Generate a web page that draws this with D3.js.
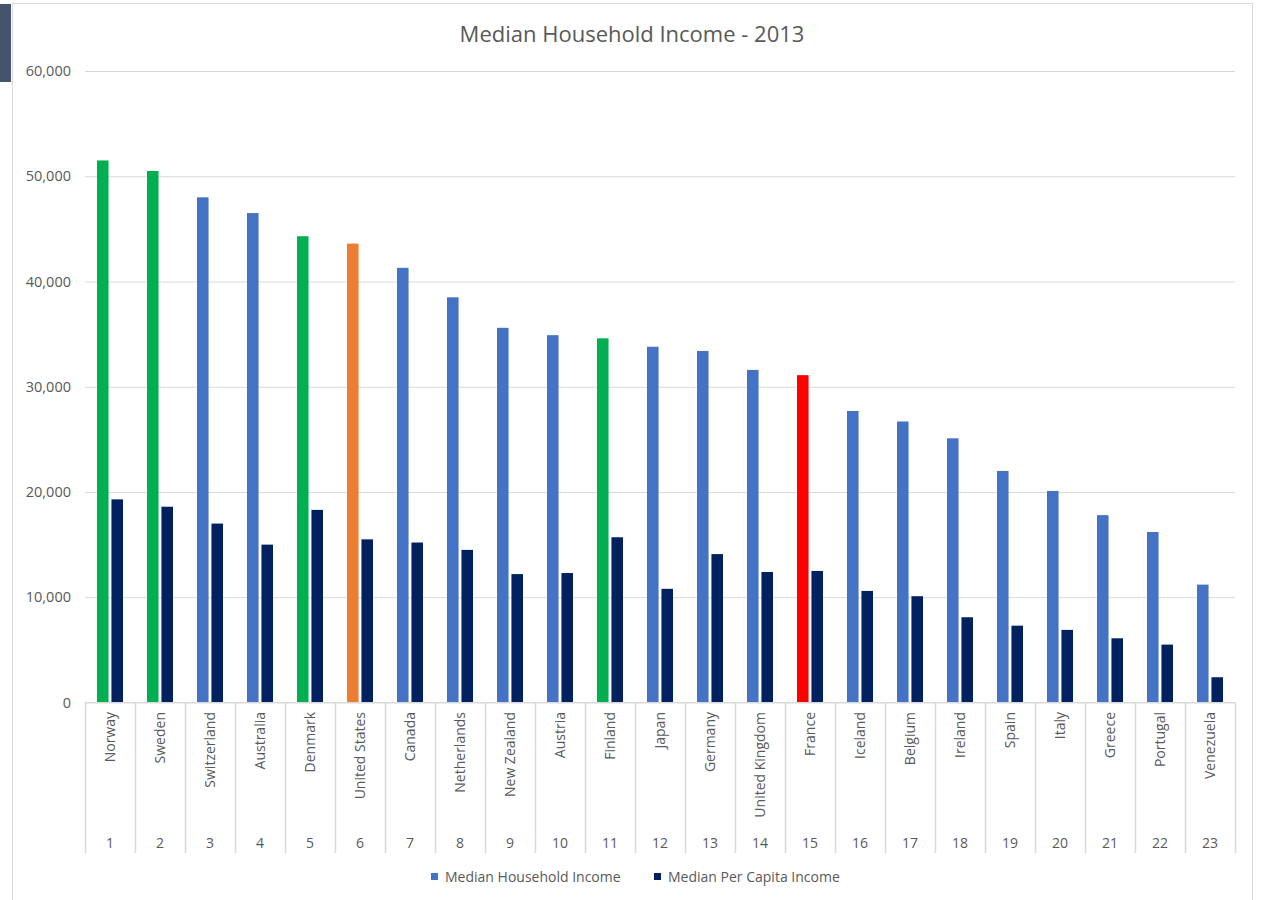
<!DOCTYPE html>
<html>
<head>
<meta charset="utf-8">
<script src="https://cdn.jsdelivr.net/npm/d3@7/dist/d3.min.js"></script>
<style>
  html, body { margin: 0; padding: 0; background: #ffffff; }
  svg { display: block; font-family: "Open Sans", "Noto Sans", sans-serif; }
</style>
</head>
<body>
<svg id="chart" width="1261" height="900"></svg>
<script>
// ---- data ----
const countries = ["Norway","Sweden","Switzerland","Australia","Denmark","United States","Canada","Netherlands","New Zealand","Austria","Finland","Japan","Germany","United Kingdom","France","Iceland","Belgium","Ireland","Spain","Italy","Greece","Portugal","Venezuela"];
const ranks = ["1","2","3","4","5","6","7","8","9","10","11","12","13","14","15","16","17","18","19","20","21","22","23"];
const householdIncome = [51500,50500,48000,46500,44300,43600,41300,38500,35600,34900,34600,33800,33400,31600,31100,27700,26700,25100,22000,20100,17800,16200,11200];
const perCapitaIncome = [19300,18600,17000,15000,18300,15500,15200,14500,12200,12300,15700,10800,14100,12400,12500,10600,10100,8100,7300,6900,6100,5500,2400];
const seriesNames = ["Median Household Income","Median Per Capita Income"];
const yTicks = [0,10000,20000,30000,40000,50000,60000];
const titleText = "Median Household Income - 2013";

// ---- styles ----
const seriesColors = ["#4472C4", "#002060"];
const highlight = { "Norway": "#00B050", "Sweden": "#00B050", "Denmark": "#00B050", "Finland": "#00B050", "United States": "#ED7D31", "France": "#FF0000" };
const textColor = "#595959";
const gridColor = "#d9d9d9";

(function () {
const svg = d3.select("#chart");

// frame
svg.append("rect").attr("x", 12.5).attr("y", 3.5).attr("width", 1240).attr("height", 910)
  .attr("fill", "#ffffff").attr("stroke", gridColor).attr("stroke-width", 1);
svg.append("rect").attr("x", 0).attr("y", 4).attr("width", 11).attr("height", 78).attr("fill", "#44546A");

const pLeft = 85, pRight = 1235, pTop = 71, pBottom = 702.5;

const y = d3.scaleLinear().domain([0, 60000]).range([pBottom, pTop]);
const x0 = d3.scaleBand().domain(countries).range([pLeft, pRight]).paddingInner(0.48).paddingOuter(0.24);
const xCat = d3.scaleBand().domain(countries).range([pLeft, pRight]).padding(0);
const x1 = d3.scaleBand().domain([0, 1]).range([0, x0.bandwidth()]).paddingInner(0.2);

// title
svg.append("text").attr("x", 632).attr("y", 42).attr("text-anchor", "middle")
  .attr("fill", textColor).style("font-size", "22px").text(titleText);

// gridlines + y axis labels
const yAxis = d3.axisLeft(y).tickValues(yTicks).tickSize(-(pRight - pLeft)).tickFormat(d3.format(","));
const gy = svg.append("g").attr("transform", `translate(${pLeft},0)`).call(yAxis);
gy.select(".domain").remove();
gy.selectAll(".tick line").attr("stroke", gridColor).attr("stroke-width", 1);
gy.selectAll(".tick text").attr("x", -14).attr("fill", textColor)
  .style("font-size", "14.5px").style("font-family", "'Open Sans', sans-serif");

// bars
const groups = svg.append("g").selectAll("g").data(countries).join("g")
  .attr("transform", d => `translate(${x0(d)},0)`);

groups.append("rect")
  .attr("x", x1(0)).attr("width", x1.bandwidth())
  .attr("y", (d, i) => y(householdIncome[i]))
  .attr("height", (d, i) => y(0) - y(householdIncome[i]))
  .attr("fill", d => highlight[d] || seriesColors[0]);

groups.append("rect")
  .attr("x", x1(1)).attr("width", x1.bandwidth())
  .attr("y", (d, i) => y(perCapitaIncome[i]))
  .attr("height", (d, i) => y(0) - y(perCapitaIncome[i]))
  .attr("fill", seriesColors[1]);

// category axis (multi-level)
const catBottom = 853;
svg.append("line").attr("x1", pLeft).attr("x2", pRight).attr("y1", pBottom).attr("y2", pBottom)
  .attr("stroke", gridColor).attr("stroke-width", 1);
const bounds = countries.map(c => xCat(c)).concat([xCat(countries[countries.length - 1]) + xCat.bandwidth()]);
svg.append("g").selectAll("line").data(bounds).join("line")
  .attr("x1", d => Math.round(d) + 0.5).attr("x2", d => Math.round(d) + 0.5)
  .attr("y1", pBottom).attr("y2", catBottom)
  .attr("stroke", gridColor).attr("stroke-width", 1.5);

svg.append("g").selectAll("text").data(countries).join("text")
  .attr("transform", d => `translate(${xCat(d) + xCat.bandwidth() / 2},712) rotate(-90)`)
  .attr("text-anchor", "end").attr("dy", "0.35em")
  .attr("fill", textColor).style("font-size", "14px")
  .text(d => d);

svg.append("g").selectAll("text").data(ranks).join("text")
  .attr("x", (d, i) => xCat(countries[i]) + xCat.bandwidth() / 2)
  .attr("y", 848).attr("text-anchor", "middle")
  .attr("fill", textColor).style("font-size", "14px")
  .text(d => d);

// legend
const legendX = [431, 654];
const lg = svg.append("g").selectAll("g").data(seriesNames).join("g")
  .attr("transform", (d, i) => `translate(${legendX[i]},0)`);
lg.append("rect").attr("x", 0).attr("y", 873).attr("width", 7).attr("height", 7)
  .attr("fill", (d, i) => seriesColors[i]);
lg.append("text").attr("x", 14).attr("y", 882).attr("fill", textColor)
  .style("font-size", "14px").text(d => d);
})();
</script>
</body>
</html>
